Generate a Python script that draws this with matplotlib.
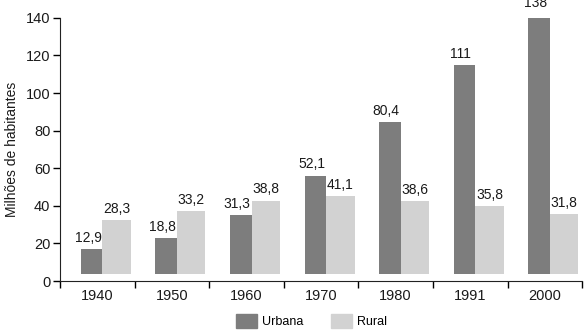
import numpy as np
import matplotlib
matplotlib.use("Agg")
import matplotlib.pyplot as plt
from matplotlib.patches import Patch

plt.rcParams['font.family'] = ['Liberation Sans', 'DejaVu Sans']

anos = ["1940", "1950", "1960", "1970", "1980", "1991", "2000"]
urbana = [12.9, 18.8, 31.3, 52.1, 80.4, 111, 138]
rural = [28.3, 33.2, 38.8, 41.1, 38.6, 35.8, 31.8]

cor_urbana = "#7d7d7d"
cor_rural = "#d2d2d2"
cor_texto = "#1a1a1a"

def fmt(v):
    return ("%g" % v).replace(".", ",")

fig = plt.figure(figsize=(5.88, 3.31), dpi=100)
ax = fig.add_axes([0.102, 0.151, 0.888, 0.795])

pos = np.arange(len(anos))
base = 4  # bars float slightly above the floor
b1 = ax.bar(pos - 0.075, urbana, 0.29, bottom=base, color=cor_urbana, linewidth=0)
b2 = ax.bar(pos + 0.26, rural, 0.38, bottom=base, color=cor_rural, linewidth=0)

for rect, v in zip(b1, urbana):
    ax.annotate(fmt(v), (rect.get_x() + rect.get_width() / 2 - 0.05, rect.get_y() + rect.get_height()),
                xytext=(0, 3), textcoords="offset points", ha="center", va="bottom",
                fontsize=10, color=cor_texto, annotation_clip=False)
for rect, v in zip(b2, rural):
    ax.annotate(fmt(v), (rect.get_x() + rect.get_width() / 2, rect.get_y() + rect.get_height()),
                xytext=(0, 3), textcoords="offset points", ha="center", va="bottom",
                fontsize=10, color=cor_texto, annotation_clip=False)

ax.set_xlim(-0.5, len(anos) - 0.5)
ax.set_ylim(0, 140)
ax.set_yticks(np.arange(0, 141, 20))
ax.set_xticks(np.arange(-0.5, len(anos), 1.0))
ax.set_xticklabels([])
ax.set_xticks(pos, minor=True)
ax.set_xticklabels(anos, minor=True)
ax.tick_params(axis="x", which="minor", length=0, pad=6, labelsize=10.5, labelcolor=cor_texto)
ax.tick_params(axis="x", which="major", length=5, width=1, direction="out")
ax.tick_params(axis="y", length=5, width=1, labelsize=10.5, pad=2, labelcolor=cor_texto)

for s in ["top", "right"]:
    ax.spines[s].set_visible(False)
ax.spines["left"].set_color("#222222")
ax.spines["bottom"].set_color("#222222")

ax.set_ylabel("Milhões de habitantes", fontsize=10, labelpad=5, color=cor_texto)

handles = [Patch(color=cor_urbana, label="Urbana"), Patch(color=cor_rural, label="Rural")]
fig.legend(handles=handles, loc="center", bbox_to_anchor=(0.53, 0.03), ncol=2,
           frameon=False, fontsize=9, handlelength=1.7, handleheight=1.3, columnspacing=2.2,
           handletextpad=0.4)

fig.savefig("out.png", dpi=100)
